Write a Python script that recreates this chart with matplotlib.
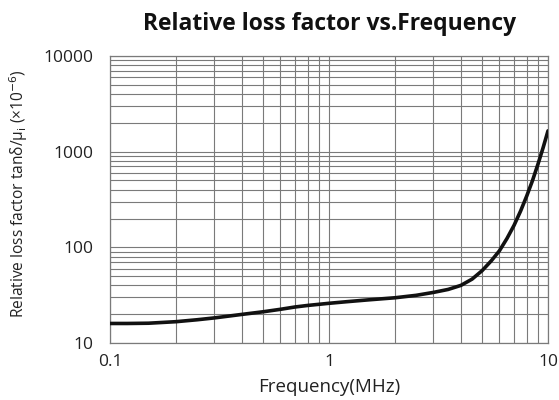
import matplotlib
matplotlib.use("Agg")
import matplotlib.pyplot as plt
from matplotlib.ticker import LogLocator, NullFormatter

freq_mhz = [0.1, 0.12, 0.15, 0.2, 0.25, 0.3, 0.4, 0.5, 0.6, 0.7, 0.8, 1.0, 1.2, 1.5,
            2.0, 2.5, 3.0, 3.5, 4.0, 4.5, 5.0, 5.5, 6.0, 6.5, 7.0, 7.5, 8.0, 8.5, 9.0, 9.5, 10.0]
loss = [16.0, 16.0, 16.1, 16.7, 17.5, 18.3, 19.9, 21.2, 22.5, 23.8, 24.7, 26.0, 27.0, 28.2,
        29.7, 31.5, 33.8, 36.3, 40.0, 46.5, 57.0, 72.0, 92.0, 124.0, 170.0, 240.0, 345.0, 500.0, 740.0, 1100.0, 1650.0]

x_ticks = [0.1, 1, 10]
x_tick_labels = ["0.1", "1", "10"]
y_ticks = [10, 100, 1000, 10000]
y_tick_labels = ["10", "100", "1000", "10000"]

plt.rcParams['font.family'] = ['Open Sans', 'DejaVu Sans']

fig = plt.figure(figsize=(5.59, 4.0), dpi=100)
ax = fig.add_axes([0.1968, 0.1425, 0.7835, 0.7175])
ax.set_xscale('log')
ax.set_yscale('log')
ax.set_xlim(0.1, 10)
ax.set_ylim(10, 10000)

ax.plot(freq_mhz, loss, color='#111111', lw=2.6, solid_capstyle='round', solid_joinstyle='round', zorder=3)

ax.set_xticks(x_ticks)
ax.set_xticklabels(x_tick_labels)
ax.set_yticks(y_ticks)
ax.set_yticklabels(y_tick_labels)
ax.xaxis.set_minor_locator(LogLocator(base=10, subs=range(2, 10)))
ax.yaxis.set_minor_locator(LogLocator(base=10, subs=range(2, 10)))
ax.xaxis.set_minor_formatter(NullFormatter())
ax.yaxis.set_minor_formatter(NullFormatter())
ax.grid(True, which='both', color='#7a7a7a', lw=0.8)
ax.tick_params(which='both', length=0, labelsize=12.5, colors='#222222')
ax.tick_params(axis='y', pad=12)
ax.tick_params(axis='x', pad=8)
for s in ax.spines.values():
    s.set_color('#7a7a7a')
    s.set_linewidth(0.9)

ax.set_xlabel('Frequency(MHz)', fontsize=13.5, color='#222222', labelpad=6)
ax.set_ylabel('Relative loss factor tanδ/μ$_\\mathrm{i}$ (×10$^{-6}$)', fontsize=11.2, color='#222222')
ax.yaxis.set_label_coords(-0.183, 0.52)
fig.text(0.59, 0.94, 'Relative loss factor vs.Frequency', ha='center', va='center',
         fontsize=16.5, fontweight='bold', color='#111111')

fig.savefig('out.png', dpi=100)
